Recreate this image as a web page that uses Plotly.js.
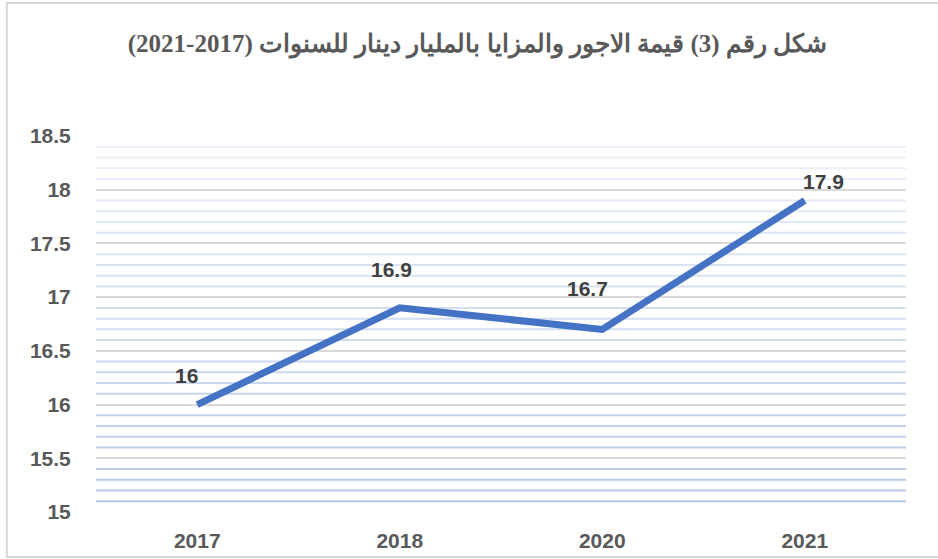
<!DOCTYPE html>
<html>
<head>
<meta charset="utf-8">
<script src="https://cdn.plot.ly/plotly-3.0.1.min.js"></script>
<style>html,body{margin:0;padding:0;background:#fff;}#chart{width:938px;height:559px;}</style>
</head>
<body>
<div id="chart"></div>
<script>
// Data
const years = ['2017', '2018', '2020', '2021'];
const values = [16, 16.9, 16.7, 17.9];
const yTickVals = [15, 15.5, 16, 16.5, 17, 17.5, 18, 18.5];
const yTickText = ['15', '15.5', '16', '16.5', '17', '17.5', '18', '18.5'];
const titleText = 'شكل رقم (3) قيمة الاجور والمزايا بالمليار دينار للسنوات (2017-2021)';

// Styling of the data labels (pixel offsets only)
const labelDX = [-11, -8, -15, 19];
const labelDY = [29, 38, 41, 19];

// Minor gridlines: gradient from faint (top) to stronger blue (bottom)
const shapes = [];
const yMin = 15, yMax = 18.5, step = 0.1;
const nSteps = Math.round((yMax - yMin) / step);
for (let i = 1; i < nSteps; i++) {
  if (i % 5 === 0) continue;
  const yv = yMin + i * step;
  const t = i / nSteps; // 0 bottom, 1 top
  const c0 = [180, 199, 231], c1 = [238, 242, 250];
  const col = c0.map((c, k) => Math.round(c + (c1[k] - c) * t));
  shapes.push({
    type: 'line', xref: 'paper', yref: 'y', x0: 0, x1: 1, y0: yv, y1: yv,
    line: {color: 'rgb(' + col.join(',') + ')', width: 2}, layer: 'below'
  });
}
// outer chart border
shapes.push({
  type: 'rect', xref: 'paper', yref: 'paper',
  x0: -0.11, x1: 1.06, y0: -0.12, y1: 1.354,
  line: {color: '#D9D9D9', width: 2}, fillcolor: 'rgba(0,0,0,0)', layer: 'below'
});

const annotations = years.map((yr, i) => ({
  x: i, y: values[i], xref: 'x', yref: 'y',
  text: '<b>' + values[i] + '</b>', showarrow: false,
  xshift: labelDX[i], yshift: labelDY[i],
  font: {family: 'Liberation Sans, Arial, sans-serif', size: 21, color: '#404040'}
}));

const trace = {
  x: years, y: values, type: 'scatter', mode: 'lines',
  line: {color: '#4472C4', width: 7},
  hoverinfo: 'skip'
};

const layout = {
  width: 938, height: 559,
  margin: {l: 96, r: 32, t: 136, b: 47},
  paper_bgcolor: '#fff', plot_bgcolor: 'rgba(0,0,0,0)',
  showlegend: false,
  title: {
    text: '<b>' + titleText + '</b>',
    x: 0.509, xanchor: 'center', y: 0.923, yanchor: 'middle',
    font: {family: 'Liberation Serif, Times New Roman, serif', size: 25, color: '#595959'}
  },
  xaxis: {
    type: 'category', range: [-0.5, 3.5],
    showgrid: false, zeroline: false, showline: false,
    ticks: 'outside', ticklen: 10, tickcolor: 'rgba(0,0,0,0)',
    tickfont: {family: 'Liberation Sans, Arial, sans-serif', size: 21, color: '#595959', weight: 'bold'},
    fixedrange: true
  },
  yaxis: {
    range: [15, 18.5],
    tickvals: yTickVals, ticktext: yTickText,
    showgrid: true, gridcolor: '#D9D9D9', gridwidth: 2,
    zeroline: false, showline: false,
    ticks: 'outside', ticklen: 20, tickcolor: 'rgba(0,0,0,0)',
    tickfont: {family: 'Liberation Sans, Arial, sans-serif', size: 21, color: '#595959', weight: 'bold'},
    fixedrange: true
  },
  shapes: shapes,
  annotations: annotations
};

Plotly.newPlot('chart', [trace], layout, {displayModeBar: false, staticPlot: true});
</script>
</body>
</html>
